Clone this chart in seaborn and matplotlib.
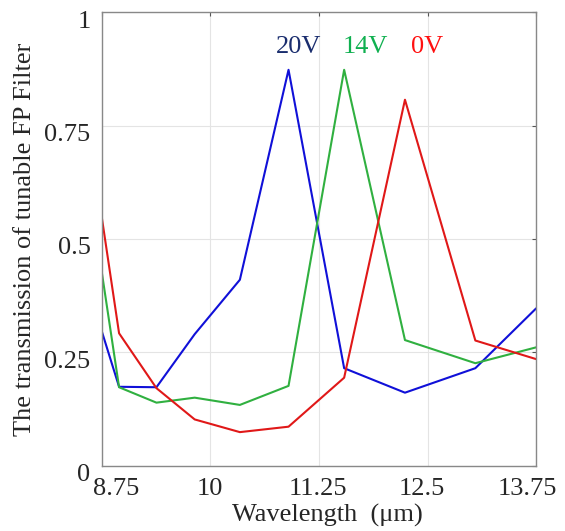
import matplotlib
matplotlib.use("Agg")
import matplotlib.pyplot as plt
import matplotlib.transforms as mtransforms
import seaborn as sns
import pandas as pd
import numpy as np

wavelength = [8.75, 8.95, 9.38, 9.82, 10.34, 10.90, 11.54, 12.24, 13.05, 13.75]
t_20v = [0.297, 0.174, 0.173, 0.290, 0.410, 0.873, 0.215, 0.161, 0.215, 0.347]
t_14v = [0.428, 0.173, 0.139, 0.150, 0.134, 0.176, 0.873, 0.277, 0.226, 0.261]
t_0v = [0.549, 0.292, 0.171, 0.102, 0.074, 0.086, 0.194, 0.807, 0.276, 0.235]
series_names = ["20V", "14V", "0V"]
line_colors = ["#1010d8", "#30b040", "#e01818"]
label_colors = ["#1a2d6e", "#10b050", "#ff1010"]
label_x = [11.02, 11.78, 12.49]
xticks = [8.75, 10, 11.25, 12.5, 13.75]
yticks = [0, 0.25, 0.5, 0.75, 1]
ytick_labels = ["0", "0.25", "0.5", "0.75", "1"]
xtick_shift_px = [14, 0, -1, -6, -9]

df = pd.DataFrame({
    "wl": wavelength * 3,
    "t": t_20v + t_14v + t_0v,
    "s": sum([[n] * len(wavelength) for n in series_names], []),
})

sns.set_style("white")
plt.rcParams["font.family"] = ["Liberation Serif", "DejaVu Serif"]

fig = plt.figure(figsize=(5.65, 5.31), dpi=100)
ax = fig.add_axes([0.180, 0.123, 0.769, 0.854])
sns.lineplot(data=df, x="wl", y="t", hue="s", hue_order=series_names,
             palette=line_colors, linewidth=1.5, legend=False, ax=ax,
             estimator=None, sort=False)

ax.set_xlim(8.75, 13.75)
ax.set_ylim(0, 1)
ax.set_xticks(xticks)
ax.set_xticklabels([f"{v:g}" for v in xticks])
ax.set_yticks(yticks)
ax.set_yticklabels(ytick_labels)
ax.grid(True, color="#e4e4e4", linewidth=0.8)
ax.set_axisbelow(True)
for sp in ax.spines.values():
    sp.set_color("#888888")
    sp.set_linewidth(1.0)
ax.tick_params(direction="in", length=3, width=0.8, color="#555555",
               top=True, right=True, labelsize=19)
ax.tick_params(axis="x", pad=9)
ax.tick_params(axis="y", pad=8)

for lbl, dx in zip(ax.get_xticklabels(), xtick_shift_px):
    lbl.set_transform(lbl.get_transform() +
                      mtransforms.ScaledTranslation(dx / 100, 0, fig.dpi_scale_trans))
for lbl in ax.get_yticklabels():
    lbl.set_transform(lbl.get_transform() +
                      mtransforms.ScaledTranslation(0, -7 / 100, fig.dpi_scale_trans))

ax.set_xlabel("Wavelength  (\u03bcm)", fontsize=19, labelpad=-4)
ax.xaxis.set_label_coords(0.52, -0.085)
ax.set_ylabel("The transmission of tunable FP Filter", fontsize=19)
ax.yaxis.set_label_coords(-0.152, 0.5)

for name, xpos, col in zip(series_names, label_x, label_colors):
    ax.text(xpos, 0.923, name, color=col, fontsize=19, ha="center", va="center")

fig.savefig("out.png", dpi=100)
